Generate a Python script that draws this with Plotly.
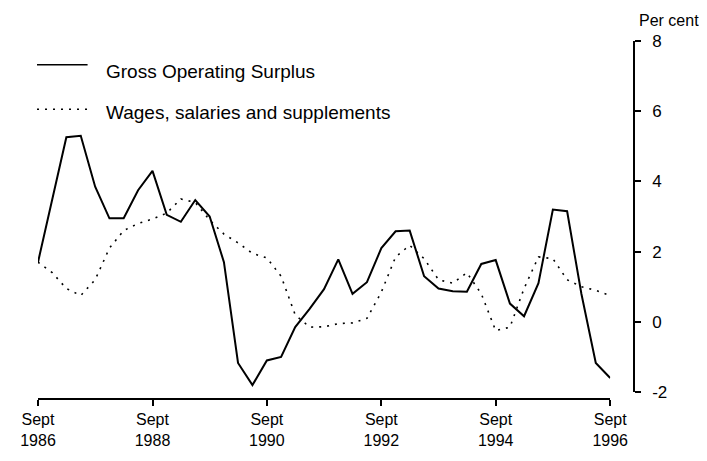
import plotly.graph_objects as go
import pandas as pd

# Quarterly, Sept 1986 to Sept 1996 (per cent change)
quarters = pd.date_range("1986-09-01", "1996-09-01", freq="3MS")

gross_operating_surplus = [
    1.7, 3.5, 5.26, 5.3, 3.85, 2.95, 2.95, 3.75, 4.3, 3.05,
    2.85, 3.47, 3.0, 1.7, -1.17, -1.8, -1.1, -1.0, -0.15, 0.37,
    0.93, 1.78, 0.8, 1.13, 2.1, 2.58, 2.6, 1.3, 0.95, 0.87,
    0.86, 1.65, 1.76, 0.52, 0.16, 1.1, 3.2, 3.15, 0.8, -1.17,
    -1.6,
]

wages_salaries = [
    1.7, 1.4, 0.95, 0.75, 1.2, 2.1, 2.6, 2.8, 2.93, 3.1,
    3.5, 3.4, 2.9, 2.5, 2.25, 1.95, 1.82, 1.3, 0.2, -0.15,
    -0.14, -0.05, -0.03, 0.1, 0.85, 1.85, 2.18, 1.8, 1.2, 1.1,
    1.4, 0.8, -0.25, -0.15, 0.95, 1.85, 1.8, 1.2, 1.0, 0.9,
    0.75,
]

tick_dates = ["1986-09-01", "1988-09-01", "1990-09-01",
              "1992-09-01", "1994-09-01", "1996-09-01"]
tick_text = ["Sept<br>1986", "Sept<br>1988", "Sept<br>1990",
             "Sept<br>1992", "Sept<br>1994", "Sept<br>1996"]
y_ticks = [-2, 0, 2, 4, 6, 8]
y_tick_text = ["-2", "0", "2", "4", "6", "8"]

FONT = "Liberation Sans, Arial, sans-serif"

fig = go.Figure()

fig.add_trace(go.Scatter(
    x=quarters, y=wages_salaries, mode="lines",
    line=dict(color="black", width=1.6, dash="2px,6px"),
    name="Wages, salaries and supplements", showlegend=False,
))
fig.add_trace(go.Scatter(
    x=quarters, y=gross_operating_surplus, mode="lines",
    line=dict(color="black", width=2),
    name="Gross Operating Surplus", showlegend=False,
))

# hand-drawn legend; plot box sits at 33..634 x 41..403 in the window
# (page body has an 8px margin, so the figure is 699x453)
W, H = 601, 362
def px_x(x):
    return (x - 33) / W
def px_y(y):
    return (403 - y) / H

fig.add_shape(type="line", xref="paper", yref="paper",
              x0=px_x(32), x1=px_x(83), y0=px_y(65), y1=px_y(65),
              line=dict(color="black", width=1.5))
fig.add_shape(type="line", xref="paper", yref="paper",
              x0=px_x(32), x1=px_x(83), y0=px_y(110), y1=px_y(110),
              line=dict(color="black", width=1.5, dash="2px,6px"))
fig.add_annotation(xref="paper", yref="paper", x=px_x(100), y=px_y(72),
                   text="Gross Operating Surplus", showarrow=False,
                   xanchor="left", yanchor="middle",
                   font=dict(size=19, color="black", family=FONT))
fig.add_annotation(xref="paper", yref="paper", x=px_x(100), y=px_y(113),
                   text="Wages, salaries and supplements", showarrow=False,
                   xanchor="left", yanchor="middle",
                   font=dict(size=19, color="black", family=FONT))
fig.add_annotation(xref="paper", yref="paper", x=px_x(637), y=px_y(20),
                   text="Per cent", showarrow=False,
                   xanchor="left", yanchor="middle",
                   font=dict(size=16, color="black", family=FONT))

fig.update_layout(
    width=699, height=453,
    margin=dict(l=25, r=73, t=33, b=58),
    paper_bgcolor="white", plot_bgcolor="white",
    font=dict(family=FONT, color="black", size=15),
    xaxis=dict(
        domain=[0, (610 - 33) / W],
        anchor="free", position=0,
        range=["1986-09-01", "1996-09-01"],
        tickmode="array", tickvals=tick_dates, ticktext=tick_text,
        ticks="outside", ticklen=6, tickwidth=1.5, tickcolor="black",
        showline=True, linecolor="black", linewidth=1.5,
        showgrid=False, zeroline=False,
        tickfont=dict(size=16),
    ),
    yaxis=dict(
        domain=[(403 - 396) / H, 1],
        anchor="free", position=1, side="right",
        range=[-2, 8],
        tickmode="array", tickvals=y_ticks, ticktext=y_tick_text,
        ticks="outside", ticklen=6, tickwidth=1.5, tickcolor="black",
        ticklabelstandoff=8,
        showline=True, linecolor="black", linewidth=1.5,
        showgrid=False, zeroline=False,
        tickfont=dict(size=17),
    ),
)

fig.write_html("out.html")
